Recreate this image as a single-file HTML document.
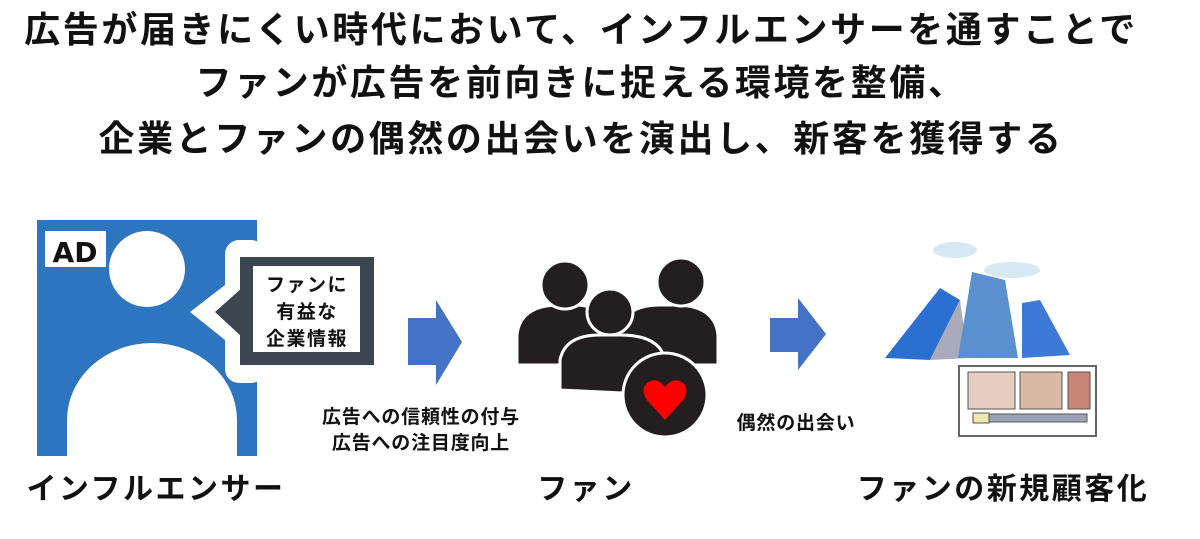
<!DOCTYPE html>
<html><head><meta charset="utf-8"><style>
html,body{margin:0;padding:0;background:#fff;width:1200px;height:539px;overflow:hidden}
svg text{font-family:"Liberation Sans","Noto Sans CJK JP",sans-serif;font-weight:bold;fill:#111}
</style></head><body>
<svg width="1200" height="539" viewBox="0 0 1200 539" xmlns="http://www.w3.org/2000/svg">
<g font-size="36" text-anchor="middle" letter-spacing="2.6">
<text x="581" y="42">広告が届きにくい時代において、インフルエンサーを通すことで</text>
<text x="581" y="95">ファンが広告を前向きに捉える環境を整備、</text>
<text x="581" y="151">企業とファンの偶然の出会いを演出し、新客を獲得する</text>
</g>
<!-- influencer -->
<rect x="37" y="220" width="220" height="236" fill="#2e75c0"/>
<rect x="225" y="240" width="40" height="143" rx="14" fill="#fff"/>
<rect x="45" y="231" width="61" height="36" fill="#fff"/>
<text x="75" y="262" font-size="28" text-anchor="middle" fill="#111" style="font-family:'DejaVu Sans',sans-serif">AD</text>
<circle cx="147" cy="269" r="38" fill="#fff"/>
<path d="M67 456 L67 420 A85 77 0 0 1 237 420 L237 456 Z" fill="#fff"/>
<polygon points="190,312 225,285 225,340" fill="#fff"/>
<rect x="240" y="257" width="134" height="108" fill="#3c4650"/>
<polygon points="215,312 242,288 242,337" fill="#3c4650"/>
<rect x="253" y="266" width="107" height="86" fill="#fff"/>
<g font-size="19" text-anchor="middle" font-weight="normal" letter-spacing="1.5">
<text x="307" y="291">ファンに</text>
<text x="307" y="318">有益な</text>
<text x="307" y="345">企業情報</text>
</g>
<!-- arrows -->
<polygon points="408,318 436,318 436,300 462,342 436,385 436,365 408,365" fill="#4472c4"/>
<polygon points="770,318 798,318 798,298 826,334 798,370 798,352 770,352" fill="#4472c4"/>
<!-- fan -->
<g fill="#231f20" stroke="#fff" stroke-width="3">
<path d="M517 365 L517 335 Q520 305 560 305 L575 305 Q608 305 612 335 L612 365 Z"/>
<circle cx="565" cy="285" r="24"/>
<path d="M618 365 L618 335 Q622 305 660 305 L675 305 Q715 305 718 335 L718 365 Z"/>
<circle cx="681" cy="282" r="24"/>
<path d="M560 390 L560 360 Q565 335 600 335 L620 335 Q660 335 665 360 L665 395 Z"/>
<circle cx="610" cy="312" r="23"/>
<circle cx="665" cy="395" r="42"/>
</g>
<path d="M665 420 L647 400 Q640 390 647 383 Q656 376 665 387 Q674 376 683 383 Q690 390 683 400 Z" fill="#f00"/>
<g font-size="19" text-anchor="middle" font-weight="normal" letter-spacing="0.8">
<text x="421" y="423">広告への信頼性の付与</text>
<text x="421" y="449">広告への注目度向上</text>
<text x="796" y="429">偶然の出会い</text>
</g>
<!-- buildings -->
<g>
<ellipse cx="955" cy="250" rx="22" ry="8" fill="#d6e8f2"/>
<ellipse cx="1012" cy="270" rx="28" ry="8" fill="#d6e8f2"/>
<polygon points="885,358 940,288 960,300 930,360" fill="#2b6fd0"/>
<polygon points="930,360 960,300 968,358" fill="#aab"/>
<polygon points="958,358 972,272 1005,280 1018,358" fill="#5a8fd0"/>
<polygon points="1022,358 1022,303 1040,300 1070,355" fill="#3d7ad8"/>
</g>
<rect x="959" y="366" width="137" height="70" fill="#fff" stroke="#666" stroke-width="2"/>
<rect x="968" y="372" width="47" height="37" fill="#e6cdbf" stroke="#555"/>
<rect x="1020" y="372" width="42" height="37" fill="#d9b9a6" stroke="#555"/>
<rect x="1068" y="372" width="22" height="37" fill="#c98575" stroke="#555"/>
<rect x="975" y="414" width="112" height="8" fill="#9aa2b5" stroke="#555"/>
<rect x="973" y="413" width="16" height="10" fill="#f0e7b0" stroke="#555"/>
<g font-size="30" text-anchor="middle" letter-spacing="2.5">
<text x="156" y="499">インフルエンサー</text>
<text x="586" y="499">ファン</text>
<text x="1003" y="499">ファンの新規顧客化</text>
</g>
</svg>
</body></html>
